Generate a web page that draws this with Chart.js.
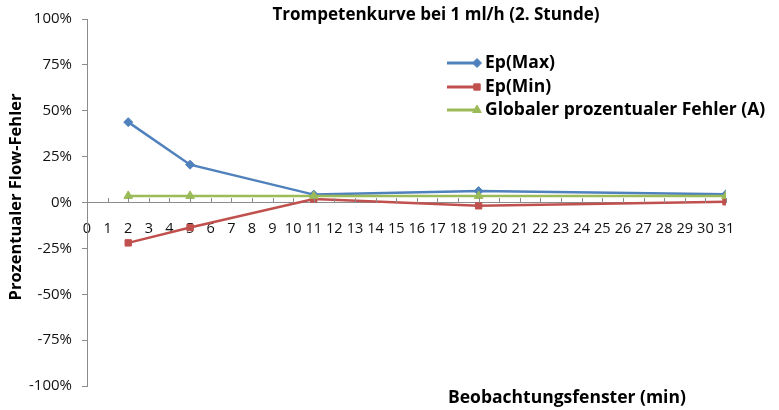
<!DOCTYPE html>
<html>
<head>
<meta charset="utf-8">
<script src="https://cdn.jsdelivr.net/npm/chart.js@4/dist/chart.umd.min.js"></script>
<style>
  html, body { margin: 0; padding: 0; background: #fff; }
  #wrap { width: 779px; height: 410px; position: relative; }
</style>
</head>
<body>
<div id="wrap"><canvas id="c" width="779" height="410"></canvas></div>
<script>
// Observation windows (minutes) and percentage errors per series
const windows = [2, 5, 11, 19, 31];
const epMax = [43.8, 20.6, 4.3, 6.2, 4.5];
const epMin = [-22.0, -13.6, 1.9, -1.8, 0.4];
const globalErr = [3.6, 3.6, 3.6, 3.6, 3.6];

const seriesNames = ['Ep(Max)', 'Ep(Min)', 'Globaler prozentualer Fehler (A)'];
const chartTitle = 'Trompetenkurve bei 1 ml/h (2. Stunde)';
const xTitle = 'Beobachtungsfenster (min)';
const yTitle = 'Prozentualer Flow-Fehler';
const yTicks = [-100, -75, -50, -25, 0, 25, 50, 75, 100];

const FONT = '"Open Sans", "DejaVu Sans", sans-serif';
const toPoints = (vals) => windows.map((w, i) => ({ x: w, y: vals[i] }));

// Titles, inside tick marks on the x axis and the legend block
const decorations = {
  id: 'decorations',
  afterDraw(chart) {
    const { ctx } = chart;
    const xs = chart.scales.x;
    const ys = chart.scales.y;
    ctx.save();

    // small tick marks pointing up from the zero line
    const y0 = Math.round(ys.getPixelForValue(0));
    ctx.strokeStyle = '#8c8c8c';
    ctx.lineWidth = 1;
    ctx.beginPath();
    for (let v = 1; v <= 31; v++) {
      const px = Math.round(xs.getPixelForValue(v)) + 0.5;
      ctx.moveTo(px, y0);
      ctx.lineTo(px, y0 - 5);
    }
    ctx.stroke();

    ctx.fillStyle = '#000';
    ctx.textBaseline = 'middle';

    ctx.font = 'bold 17px ' + FONT;
    ctx.textAlign = 'center';
    ctx.fillText(chartTitle, 436, 15);

    ctx.font = 'bold 17.5px ' + FONT;
    ctx.textAlign = 'left';
    ctx.fillText(xTitle, 448, 398);

    ctx.save();
    ctx.translate(16, 197);
    ctx.rotate(-Math.PI / 2);
    ctx.textAlign = 'center';
    ctx.font = 'bold 16.5px ' + FONT;
    ctx.fillText(yTitle, 0, 0);
    ctx.restore();

    // legend: line sample with marker, then series name
    const rows = [63, 87, 110];
    chart.data.datasets.forEach((ds, i) => {
      const y = rows[i];
      ctx.strokeStyle = ds.borderColor;
      ctx.lineWidth = 3;
      ctx.beginPath();
      ctx.moveTo(447, y);
      ctx.lineTo(477, y);
      ctx.stroke();
      ctx.fillStyle = ds.backgroundColor;
      ctx.strokeStyle = ds.borderColor;
      ctx.lineWidth = 1;
      Chart.helpers.drawPoint(ctx, {
        pointStyle: ds.pointStyle,
        radius: ds.pointRadius,
        borderWidth: 1
      }, 477, y);
      ctx.fillStyle = '#000';
      ctx.font = 'bold 17.5px ' + FONT;
      ctx.textAlign = 'left';
      ctx.fillText(ds.label, 485, y);
    });
    ctx.restore();
  }
};

new Chart(document.getElementById('c'), {
  type: 'scatter',
  data: {
    datasets: [
      {
        label: seriesNames[0],
        data: toPoints(epMax),
        showLine: true,
        borderColor: '#4F81BD',
        backgroundColor: '#4F81BD',
        borderWidth: 2.5,
        pointStyle: 'rectRot',
        pointRadius: 4.5,
        pointBorderWidth: 1,
        order: 2
      },
      {
        label: seriesNames[1],
        data: toPoints(epMin),
        showLine: true,
        borderColor: '#C0504D',
        backgroundColor: '#C0504D',
        borderWidth: 2.5,
        pointStyle: 'rect',
        pointRadius: 4.5,
        pointBorderWidth: 1,
        order: 1
      },
      {
        label: seriesNames[2],
        data: toPoints(globalErr),
        showLine: true,
        borderColor: '#9BBB59',
        backgroundColor: '#9BBB59',
        borderWidth: 2.5,
        pointStyle: 'triangle',
        pointRadius: 5,
        pointBorderWidth: 1,
        order: 0
      }
    ]
  },
  options: {
    responsive: false,
    animation: false,
    devicePixelRatio: 1,
    layout: { padding: { left: 0, top: 13, right: 53, bottom: 24 } },
    plugins: {
      legend: { display: false },
      tooltip: { enabled: false },
      title: { display: false }
    },
    elements: { line: { tension: 0 } },
    scales: {
      x: {
        type: 'linear',
        position: { y: 0 },
        min: 0,
        max: 31,
        border: { display: true, color: '#8c8c8c', width: 1 },
        grid: { display: true, drawOnChartArea: false, drawTicks: false },
        ticks: {
          stepSize: 1,
          autoSkip: false,
          maxRotation: 0,
          padding: 18,
          color: '#111',
          font: { family: FONT, size: 14.5 },
          callback: (v) => String(v)
        }
      },
      y: {
        type: 'linear',
        min: -100,
        max: 100,
        afterBuildTicks: (scale) => { scale.ticks = yTicks.map(v => ({ value: v })); },
        afterFit: (scale) => { scale.width = 87; },
        border: { display: true, color: '#8c8c8c', width: 1 },
        grid: { display: true, drawOnChartArea: false, drawTicks: true, tickLength: 5, color: '#8c8c8c' },
        ticks: {
          padding: 10,
          color: '#111',
          font: { family: FONT, size: 15 },
          callback: (v) => v + '%'
        }
      }
    }
  },
  plugins: [decorations]
});
</script>
</body>
</html>
